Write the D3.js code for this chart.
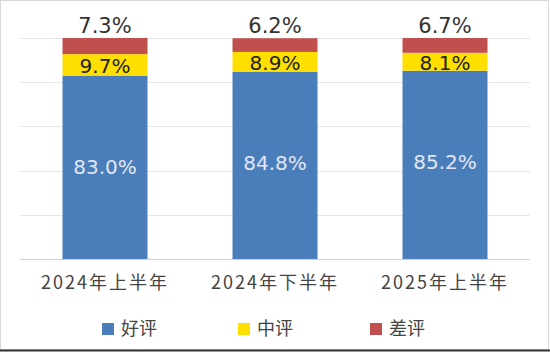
<!DOCTYPE html>
<html>
<head>
<meta charset="utf-8">
<script src="https://cdn.jsdelivr.net/npm/d3@7"></script>
<style>
  body { margin: 0; background: #fff; }
</style>
</head>
<body>
<div id="chart"></div>
<script>
// Data
const periods = ["2024年上半年", "2024年下半年", "2025年上半年"];
const seriesNames = ["好评", "中评", "差评"];
const good = [83.0, 84.8, 85.2];
const mid = [9.7, 8.9, 8.1];
const bad = [7.3, 6.2, 6.7];
const yTicks = [0, 20, 40, 60, 80, 100];

const colors = ["#4a7ebb", "#ffdf00", "#c0504d"];
const labelColors = ["#e3e6f2", "#222", "#333"];

const width = 550, height = 352;
const margin = { top: 38, right: 20, bottom: 93, left: 20 };

const svg = d3.select("#chart").append("svg")
    .attr("width", width)
    .attr("height", height);

// outer frame
svg.append("rect")
    .attr("x", 0.5).attr("y", 0.5)
    .attr("width", width - 2).attr("height", height - 3)
    .attr("fill", "none")
    .attr("stroke", "#d9d9d9");
svg.append("line")
    .attr("x1", 0).attr("x2", width)
    .attr("y1", height - 1.5).attr("y2", height - 1.5)
    .attr("stroke", "#333").attr("stroke-width", 2);

const x = d3.scaleBand()
    .domain(periods)
    .range([margin.left, width - margin.right])
    .paddingInner(0.5)
    .paddingOuter(0.25);

const y = d3.scaleLinear()
    .domain([0, 100])
    .range([height - margin.bottom, margin.top]);

// gridlines
svg.append("g")
    .selectAll("line")
    .data(yTicks)
    .join("line")
    .attr("x1", margin.left)
    .attr("x2", width - margin.right)
    .attr("y1", d => Math.round(y(d)) + 0.5)
    .attr("y2", d => Math.round(y(d)) + 0.5)
    .attr("stroke", d => d === 0 ? "#d0d0d0" : "#e6e6e6");

// stacked table
const table = periods.map((p, i) => ({ period: p, "好评": good[i], "中评": mid[i], "差评": bad[i] }));
const stacked = d3.stack().keys(seriesNames)(table);

const layers = svg.append("g")
    .selectAll("g")
    .data(stacked)
    .join("g")
    .attr("fill", (d, i) => colors[i]);

layers.selectAll("rect")
    .data(d => d)
    .join("rect")
    .attr("x", d => x(d.data.period))
    .attr("width", x.bandwidth())
    .attr("y", d => y(d[1]))
    .attr("height", d => y(d[0]) - y(d[1]));

// value labels
const fmt = v => v.toFixed(1) + "%";
const labelSize = ["20px", "20px", "21px"];
stacked.forEach((layer, i) => {
    svg.append("g")
        .selectAll("text")
        .data(layer)
        .join("text")
        .attr("x", d => x(d.data.period) + x.bandwidth() / 2)
        .attr("y", d => {
            if (i === 0) return y(d[1]) + 91;
            if (i === 1) return (y(d[0]) + y(d[1])) / 2 + 1;
            return y(d[1]) - 13;
        })
        .attr("dy", "0.36em")
        .attr("text-anchor", "middle")
        .style("font-family", "'DejaVu Sans', sans-serif")
        .style("font-size", labelSize[i])
        .attr("fill", labelColors[i])
        .text(d => fmt(d[1] - d[0]));
});

// category labels
svg.append("g")
    .selectAll("text")
    .data(periods)
    .join("text")
    .attr("x", d => x(d) + x.bandwidth() / 2)
    .attr("y", 283)
    .attr("dy", "0.36em")
    .attr("text-anchor", "middle")
    .style("font-family", "'Noto Sans CJK SC', sans-serif")
    .style("font-size", "18px")
    .style("letter-spacing", "2px")
    .attr("fill", "#444")
    .text(d => d);

// legend
const legendX = [102, 238, 370];
const legend = svg.append("g")
    .selectAll("g")
    .data(seriesNames)
    .join("g")
    .attr("transform", (d, i) => `translate(${legendX[i]},329)`);

legend.append("rect")
    .attr("x", 0).attr("y", -6)
    .attr("width", 12).attr("height", 12)
    .attr("fill", (d, i) => colors[i]);

legend.append("text")
    .attr("x", 19)
    .attr("dy", "0.36em")
    .style("font-family", "'Noto Sans CJK SC', sans-serif")
    .style("font-size", "18px")
    .attr("fill", "#444")
    .text(d => d);
</script>
</body>
</html>
